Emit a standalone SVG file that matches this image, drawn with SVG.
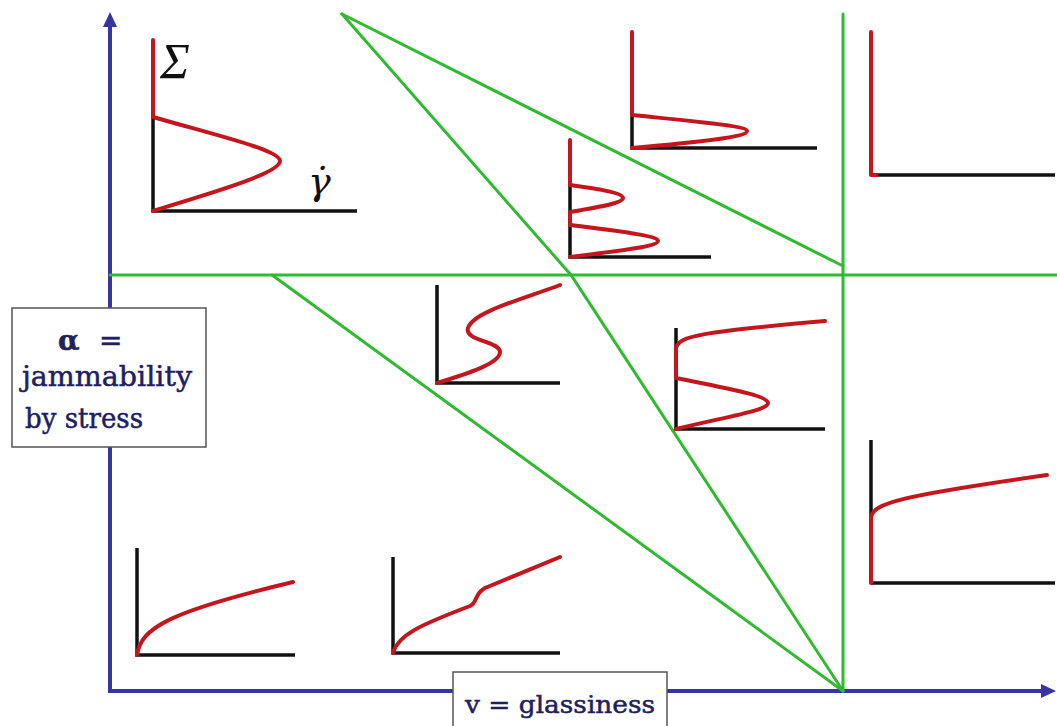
<svg xmlns="http://www.w3.org/2000/svg" width="1057" height="726" viewBox="0 0 1057 726">
<defs>
<style>
.ax{fill:none;stroke:#111;stroke-width:3.5;stroke-linecap:butt;stroke-linejoin:miter}
.rd{fill:none;stroke:#c4161c;stroke-width:4;stroke-linecap:round;stroke-linejoin:round}
.gr{fill:none;stroke:#2fbb2f;stroke-width:3;stroke-linecap:round}
.bl{fill:none;stroke:#3636a3;stroke-width:4}
.lab{font-family:"DejaVu Serif","Liberation Serif",serif;fill:#20205f;stroke:#20205f;stroke-width:0.5}
.box{fill:#fff;stroke:#555;stroke-width:1.5}
.math{font-family:"Liberation Serif","DejaVu Serif",serif;font-style:italic;fill:#111}
</style>
</defs>
<rect width="1057" height="726" fill="#fff"/>
<g id="connectors">
<path class="bl" d="M110,693 V24"/>
<polygon fill="#3636a3" points="110,12 103,27 117,27"/>
<path class="bl" d="M108,691 H1044"/>
<polygon fill="#3636a3" points="1056,691 1041,684 1041,698"/>
<path class="gr" d="M110,275 H1057"/>
<path class="gr" d="M843,14 V691"/>
<path class="gr" d="M342,14 L843,266"/>
<path class="gr" d="M342,14 L571,275 L843,691"/>
<path class="gr" d="M272,275 L843,691"/>
</g>
<g id="sketch-top-left">
<path class="ax" d="M153,117 V211 H357"/>
<path class="rd" d="M153,40 V117"/>
<path class="rd" d="M153,117 C215,135 280,150 280,161 C280,173 215,192 153,211"/>
<text class="math" x="160" y="78" font-size="50">Σ</text>
<text x="308" y="194" font-size="38" font-style="italic" font-family="'DejaVu Serif',serif" fill="#111">γ̇</text>
</g>
<g id="sketch-top-middle">
<path class="ax" d="M632,115 V148 H817"/>
<path class="rd" d="M632,32 V115"/>
<path class="rd" d="M632,115 C700,122 747,126 747,131 C747,137 700,142 632,148"/>
</g>
<g id="sketch-w">
<path class="ax" d="M570,185 V257 H711"/>
<path class="rd" d="M570,140 V185"/>
<path class="rd" d="M570,185 C600,189 623,193 623,198 C623,203 600,207 570,212 V225 C620,231 658,236 658,241 C658,246 620,251 570,257"/>
</g>
<g id="sketch-top-right">
<path class="ax" d="M871,175 H1055"/>
<path class="rd" d="M871,32 V175 H876"/>
</g>
<g id="sketch-s">
<path class="ax" d="M437,285 V383 H560"/>
<path class="rd" d="M437,383 C470,373 500,363 500,352 C500,341 464,341 468,328 C473,312 520,300 560,285"/>
</g>
<g id="sketch-mid-right">
<path class="ax" d="M676,328 V429 H825"/>
<path class="rd" d="M676,429 C735,415 768,410 768,403 C768,396 735,390 676,378 V348 C679,336 700,332 825,321"/>
</g>
<g id="sketch-bottom-right">
<path class="ax" d="M871,440 V517 M871,583 H1055"/>
<path class="rd" d="M871,583 V517 C874,503 900,496 1047,475"/>
</g>
<g id="sketch-bottom-left">
<path class="ax" d="M137,548 V655 H295"/>
<path class="rd" d="M137,655 C141,628 168,612 293,582"/>
</g>
<g id="sketch-bottom-mid">
<path class="ax" d="M393,557 V653 H560"/>
<path class="rd" d="M393,653 C398,635 420,625 470,606 C478,602 474,594 485,588 L560,557"/>
</g>
<g id="label-alpha">
<rect class="box" x="12" y="308" width="194" height="139"/>
<text class="lab" x="58" y="350" font-size="28" font-weight="bold">α</text>
<text class="lab" x="99" y="350" font-size="28">=</text>
<text class="lab" x="22" y="386" font-size="28" textLength="170" lengthAdjust="spacingAndGlyphs">jammability</text>
<text class="lab" x="25" y="428" font-size="28" textLength="118" lengthAdjust="spacingAndGlyphs">by stress</text>
</g>
<g id="label-nu">
<rect class="box" x="453" y="672" width="214" height="60"/>
<text class="lab" x="465" y="713" font-size="25" textLength="190" lengthAdjust="spacingAndGlyphs">v = glassiness</text>
</g>
</svg>
